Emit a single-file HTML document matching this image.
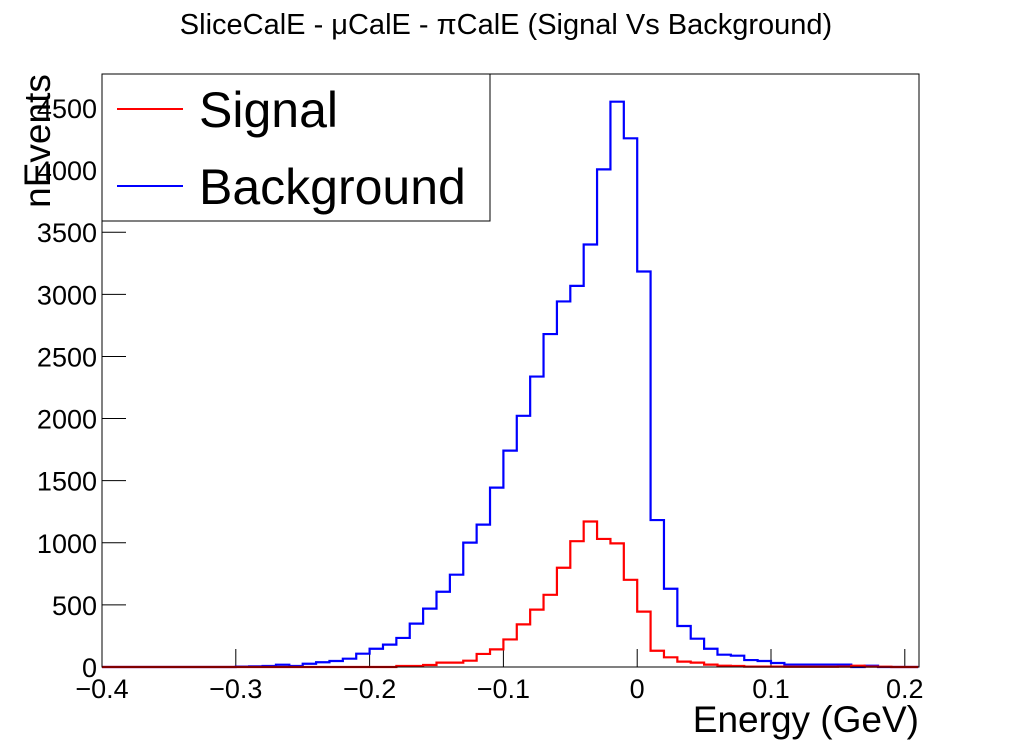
<!DOCTYPE html>
<html><head><meta charset="utf-8"><style>
body{margin:0;background:#fff;}
svg text{font-family:"Liberation Sans",sans-serif;}
</style></head><body>
<svg width="1022" height="742" viewBox="0 0 1022 742">
<rect x="0" y="0" width="1022" height="742" fill="#fff"/>
<text x="506" y="34" font-size="29" text-anchor="middle">SliceCalE - μCalE - πCalE (Signal Vs Background)</text>
<g id="axes"></g>
<g id="series"></g>
<rect x="102" y="74" width="817" height="593" fill="none" stroke="#000" stroke-width="1"/>
<g>
<rect x="102" y="74" width="388" height="147" fill="#fff" stroke="#000" stroke-width="1"/>
<line x1="117" y1="109" x2="183" y2="109" stroke="#f00" stroke-width="2"/>
<text x="199" y="127" font-size="50">Signal</text>
<line x1="117" y1="186" x2="183" y2="186" stroke="#00f" stroke-width="2"/>
<text x="199" y="204" font-size="50">Background</text>
</g>
<text transform="translate(50,141) rotate(-90)" font-size="37" text-anchor="middle">nEvents</text>
<text x="919" y="732" font-size="37" text-anchor="end">Energy (GeV)</text>
</svg>
<script>
const binStart = -0.40;
const binWidth = 0.01;
const backgroundCounts = [0,0,0,0,0,0,0,0,0,0,
3,5,8,18,8,26,38,48,67,107,147,180,234,349,470,606,743,1001,1146,1444,1742,2022,2338,2680,2943,3068,3401,4006,4551,4256,
3184,1183,630,330,228,147,99,91,56,48,32,19,19,19,19,19,0,10,0,0,0];
const signalCounts = [0,0,0,0,0,0,0,0,0,0,0,0,0,0,0,0,0,0,0,0,0,0,
8,8,16,35,35,51,105,142,222,343,462,581,799,1013,1171,1031,995,702,
446,131,78,43,35,19,10,8,3,3,3,2,2,2,2,3,10,3,2,0,0];
const xTicks = [-0.4,-0.3,-0.2,-0.1,0,0.1,0.2];
const xTickLabels = ["\u22120.4","\u22120.3","\u22120.2","\u22120.1","0","0.1","0.2"];
const yTicks = [0,500,1000,1500,2000,2500,3000,3500,4000,4500];

const X0=102, PX_PER_UNIT=1338, Y0=667, PY_PER_UNIT=559/4500;
function xs(v){return X0+(v-(-0.4))*PX_PER_UNIT;}
function ys(v){return Y0-v*PY_PER_UNIT;}
const NS="http://www.w3.org/2000/svg";
const axes=document.getElementById('axes');
const series=document.getElementById('series');
function mk(tag,attrs,parent){const e=document.createElementNS(NS,tag);for(const k in attrs)e.setAttribute(k,attrs[k]);parent.appendChild(e);return e;}

xTicks.forEach((t,i)=>{
  const x=xs(t);
  const l=mk('line',{x1:x,y1:Y0,x2:x,y2:Y0-18,stroke:'#000','stroke-width':1},axes);
  
  
  const tx=mk('text',{x:x,y:698,'font-size':27,'text-anchor':'middle'},axes);
  tx.textContent=xTickLabels[i];
  
  
});
yTicks.forEach(t=>{
  const y=ys(t);
  const l=mk('line',{x1:X0,y1:y,x2:X0+24,y2:y,stroke:'#000','stroke-width':1},axes);
  
  
  const tx=mk('text',{x:97,y:y+10,'font-size':27,'text-anchor':'end'},axes);
  tx.textContent=String(t);
  
  
});

function stepPath(counts){
  let d='M'+xs(binStart)+','+ys(0);
  counts.forEach((c,i)=>{
    const a=xs(binStart+i*binWidth), b=xs(binStart+(i+1)*binWidth);
    d+=' L'+a+','+ys(c)+' L'+b+','+ys(c);
  });
  d+=' L'+xs(binStart+counts.length*binWidth)+','+ys(0);
  return d;
}
const pb=mk('path',{d:stepPath(backgroundCounts),fill:'none',stroke:'#00f','stroke-width':2.2},series);


const ps=mk('path',{d:stepPath(signalCounts),fill:'none',stroke:'#f00','stroke-width':2.2},series);


</script>
</body></html>
